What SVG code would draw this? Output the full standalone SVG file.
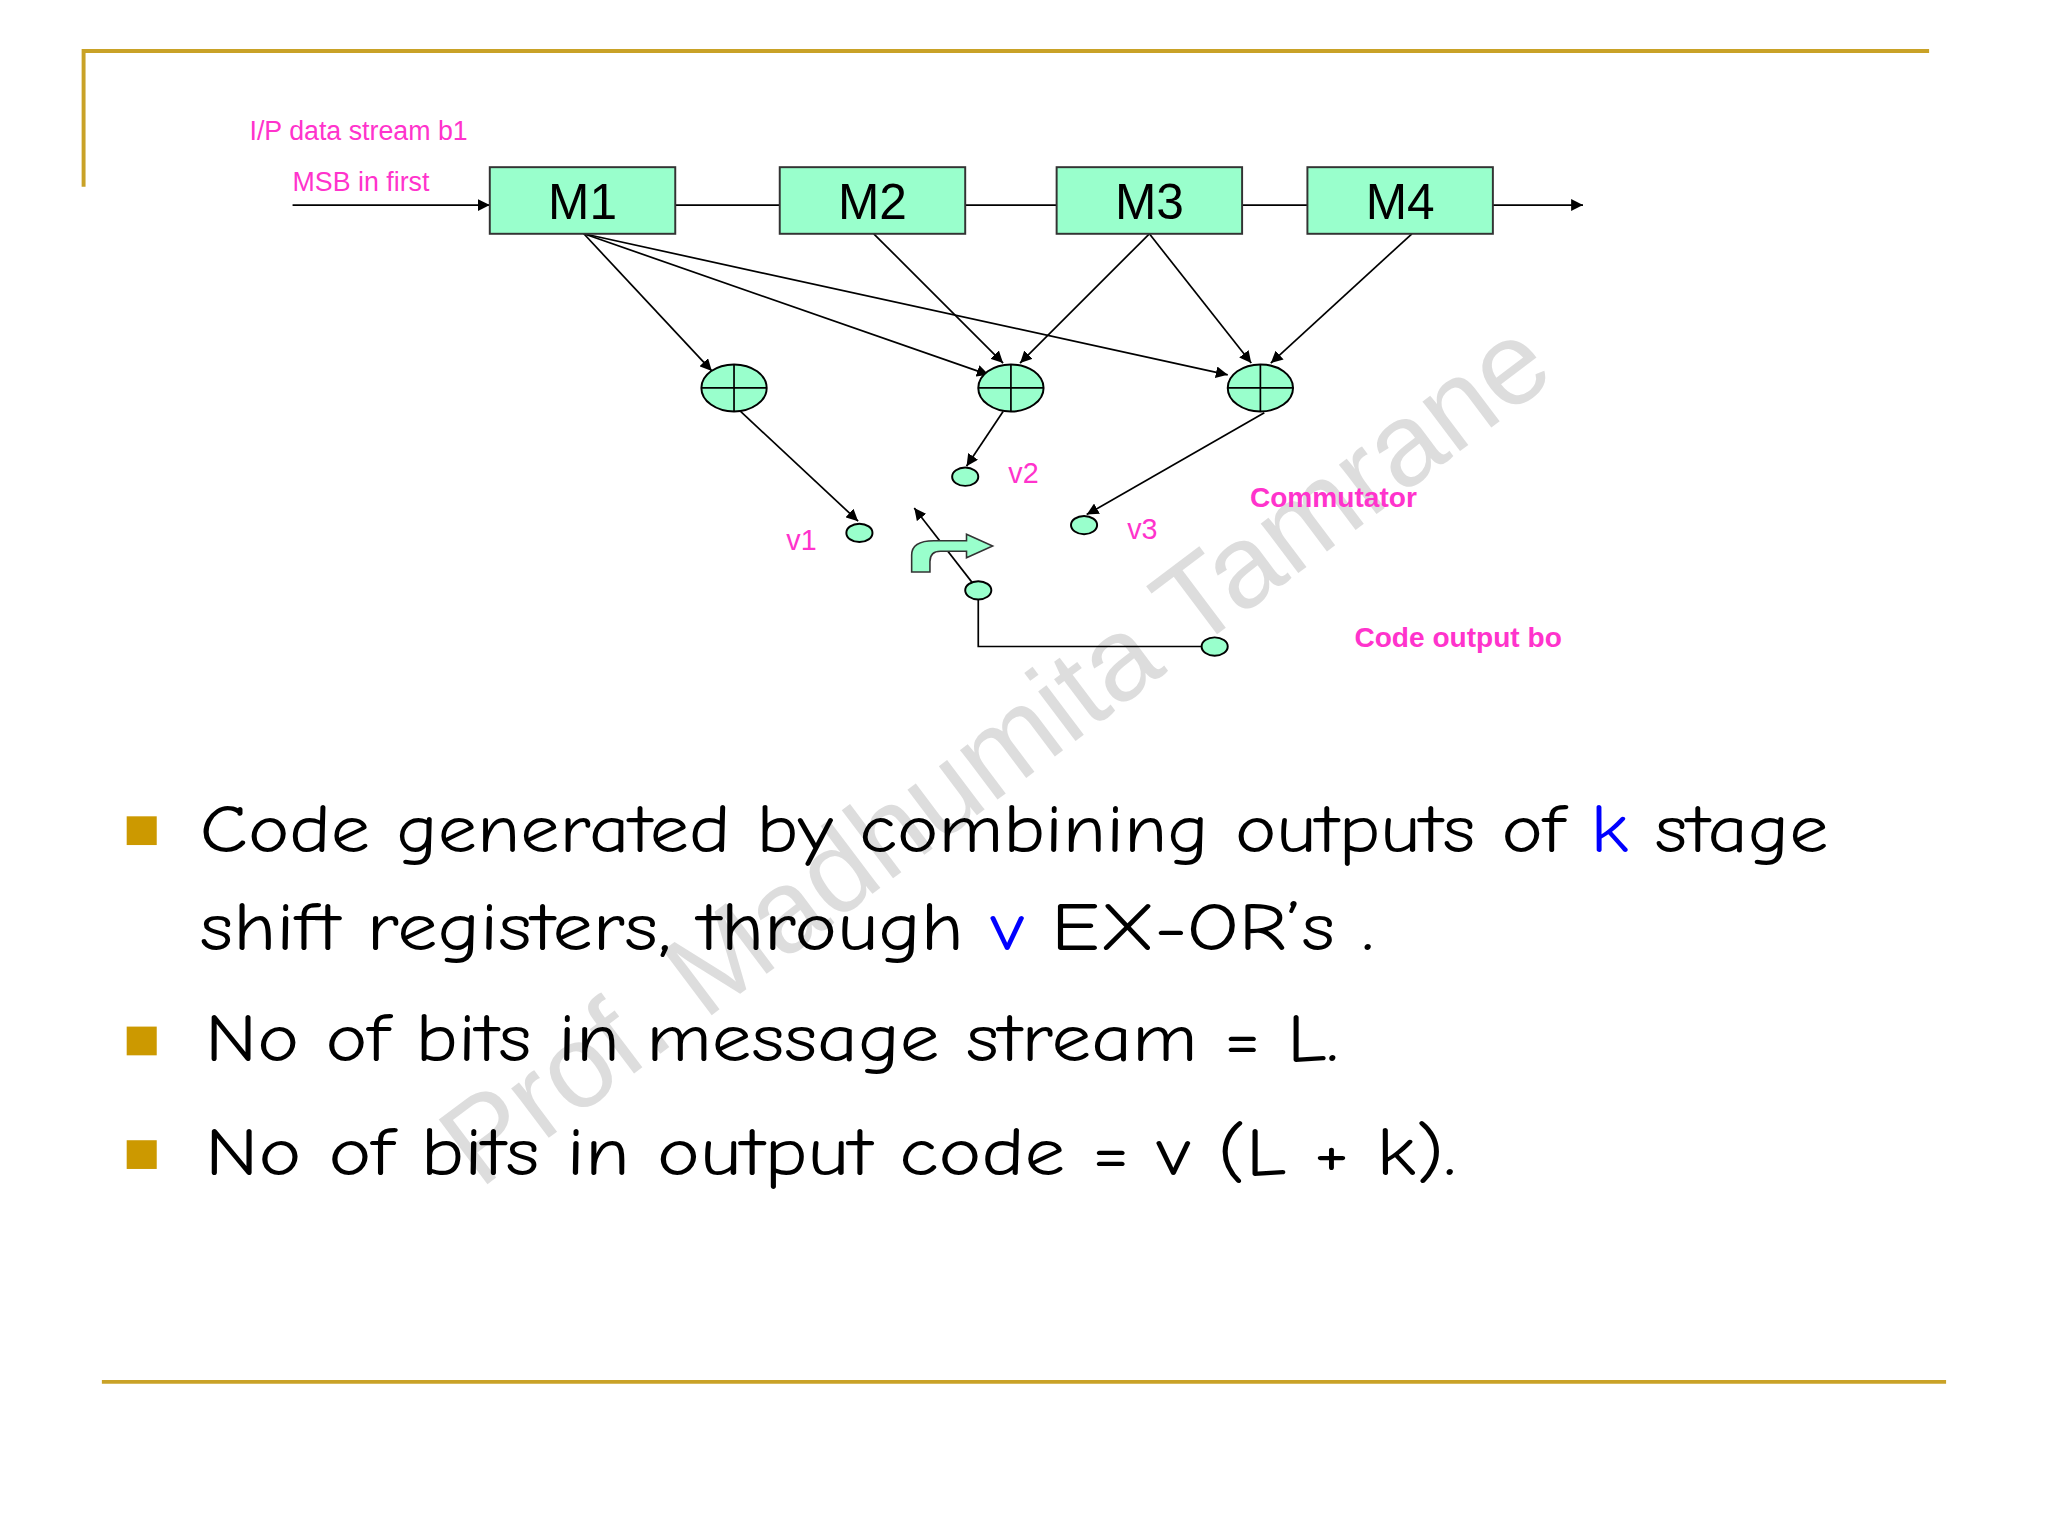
<svg xmlns="http://www.w3.org/2000/svg" width="2048" height="1536" viewBox="0 0 2048 1536">
<defs>
<marker id="ah" viewBox="0 0 10 10" refX="10" refY="5" markerWidth="7" markerHeight="7" orient="auto"><path d="M0,0 L10,5 L0,10 z" fill="#000"/></marker>
<style>
.box{fill:#99FFCC;stroke:#333;stroke-width:1.5}
.bl{font-family:"Liberation Sans",Arial,sans-serif;font-size:38px;text-anchor:middle}
.ln{stroke:#000;stroke-width:1.3;fill:none}
.lnA{stroke:#000;stroke-width:1.3;fill:none;marker-end:url(#ah)}
.mg{fill:#FF33CC;font-family:"Liberation Sans",Arial,sans-serif}
.xo{fill:#99FFCC;stroke:#000;stroke-width:1.5}
.bt{font-family:"Comic Neue","Noto Sans","Liberation Sans",sans-serif;font-size:52px;fill:#000}
.sq{fill:#CC9900}
</style>
</defs>
<rect width="2048" height="1536" fill="#fff"/>
<g transform="scale(1.3061)">
<path d="M64,143 V39 H1477" stroke="#C9A227" stroke-width="3" fill="none"/>
<line x1="78" y1="1058" x2="1490" y2="1058" stroke="#C9A227" stroke-width="3"/>
<text transform="translate(780,600) rotate(-37)" text-anchor="middle" font-family="Liberation Sans,Arial,sans-serif" font-size="90" fill="#bbb" fill-opacity="0.5">Prof. Madhumita Tamrane</text>
<g id="connectors">
<line class="lnA" x1="224" y1="157" x2="375" y2="157"/>
<line class="ln" x1="517" y1="157" x2="597" y2="157"/>
<line class="ln" x1="739" y1="157" x2="809" y2="157"/>
<line class="ln" x1="951" y1="157" x2="1001" y2="157"/>
<line class="lnA" x1="1143" y1="157" x2="1212" y2="157"/>
<line class="lnA" x1="447" y1="179" x2="545" y2="284"/>
<line class="lnA" x1="447" y1="179" x2="757" y2="287"/>
<line class="lnA" x1="447" y1="179" x2="940" y2="287"/>
<line class="lnA" x1="669" y1="179" x2="768" y2="278"/>
<line class="lnA" x1="880" y1="179" x2="781" y2="278"/>
<line class="lnA" x1="880" y1="179" x2="958" y2="278"/>
<line class="lnA" x1="1081" y1="179" x2="973" y2="278"/>
<line class="lnA" x1="567" y1="315" x2="657" y2="399"/>
<line class="lnA" x1="768" y1="315" x2="740" y2="357"/>
<line class="lnA" x1="968" y1="316" x2="832" y2="394"/>
<line class="lnA" x1="749" y1="452" x2="700" y2="389"/>
<path class="ln" d="M749,452 V495 H920"/>
</g>
<g id="M1"><rect class="box" x="375" y="128" width="142" height="51"/><text class="bl" x="446" y="168">M1</text></g>
<g id="M2"><rect class="box" x="597" y="128" width="142" height="51"/><text class="bl" x="668" y="168">M2</text></g>
<g id="M3"><rect class="box" x="809" y="128" width="142" height="51"/><text class="bl" x="880" y="168">M3</text></g>
<g id="M4"><rect class="box" x="1001" y="128" width="142" height="51"/><text class="bl" x="1072" y="168">M4</text></g>
<g id="x1"><ellipse class="xo" cx="562" cy="297" rx="25" ry="18"/><path class="ln" d="M537,297 H587 M562,279 V315"/></g>
<g id="x2"><ellipse class="xo" cx="774" cy="297" rx="25" ry="18"/><path class="ln" d="M749,297 H799 M774,279 V315"/></g>
<g id="x3"><ellipse class="xo" cx="965" cy="297" rx="25" ry="18"/><path class="ln" d="M940,297 H990 M965,279 V315"/></g>
<g id="v1"><ellipse class="xo" cx="658" cy="408" rx="10" ry="7"/></g>
<g id="v2"><ellipse class="xo" cx="739" cy="365" rx="10" ry="7"/></g>
<g id="v3"><ellipse class="xo" cx="830" cy="402" rx="10" ry="7"/></g>
<g id="comm"><ellipse class="xo" cx="749" cy="452" rx="10" ry="7"/></g>
<g id="out"><ellipse class="xo" cx="930" cy="495" rx="10" ry="7"/></g>
<path d="M698,438 V425 Q698,414 715,414 H740 V409 L760,418 L740,427 V422 H720 Q712,422 712,430 V438 Z" fill="#99FFCC" stroke="#333" stroke-width="1.2"/>
<text class="mg" x="191" y="107" font-size="20.5">I/P data stream b1</text>
<text class="mg" x="224" y="146" font-size="20.5">MSB in first</text>
<text class="mg" x="957" y="388" font-size="21.5" font-weight="bold">Commutator</text>
<text class="mg" x="1037" y="495" font-size="21.5" font-weight="bold">Code output bo</text>
<text class="mg" x="602" y="421" font-size="22">v1</text>
<text class="mg" x="772" y="370" font-size="22">v2</text>
<text class="mg" x="863" y="413" font-size="22">v3</text>
<rect class="sq" x="97" y="625" width="23" height="22"/>
<rect class="sq" x="97" y="786" width="23" height="22"/>
<rect class="sq" x="97" y="873" width="23" height="22"/>
<text class="bt" x="153" y="652" textLength="1247" lengthAdjust="spacingAndGlyphs">Code generated by combining outputs of <tspan fill="#0000FF">k</tspan> stage</text>
<text class="bt" x="153" y="727" textLength="899" lengthAdjust="spacingAndGlyphs">shift registers, through <tspan fill="#0000FF">v</tspan> EX-OR’s .</text>
<text class="bt" x="157" y="812" textLength="868" lengthAdjust="spacingAndGlyphs">No of bits in message stream = L.</text>
<text class="bt" x="157" y="900" textLength="958" lengthAdjust="spacingAndGlyphs">No of bits in output code = v (L + k).</text>
</g>
</svg>
